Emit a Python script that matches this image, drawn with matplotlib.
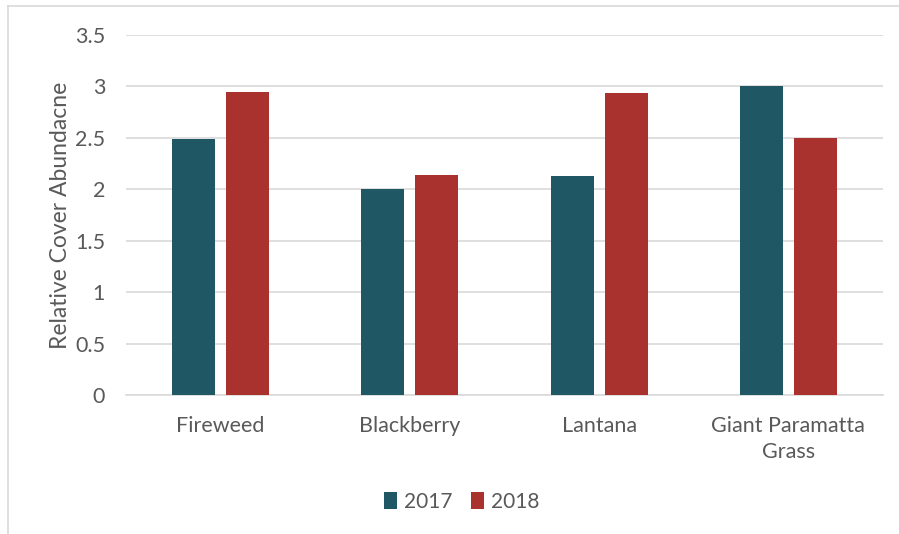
import numpy as np
import matplotlib.pyplot as plt

categories = ["Fireweed", "Blackberry", "Lantana", "Giant Paramatta\nGrass"]
series_names = ["2017", "2018"]
values_2017 = [2.49, 2.0, 2.13, 3.0]
values_2018 = [2.95, 2.14, 2.94, 2.5]
y_ticks = [0, 0.5, 1, 1.5, 2, 2.5, 3, 3.5]
y_tick_labels = ["0", "0.5", "1", "1.5", "2", "2.5", "3", "3.5"]

teal = "#1F5765"
red = "#A9322F"
text_col = "#595959"
grid_col = "#D9D9D9"

plt.rcParams['font.family'] = ['Lato', 'DejaVu Sans']

fig = plt.figure(figsize=(8.99, 5.34), dpi=100)
ax = fig.add_axes([126 / 899, 1 - 395 / 534, (883 - 126) / 899, (395 - 35) / 534])

x = np.arange(len(categories))
w = 0.227
gap = 0.058
ax.bar(x - (w + gap) / 2, values_2017, w, color=teal, label=series_names[0], zorder=3)
ax.bar(x + (w + gap) / 2, values_2018, w, color=red, label=series_names[1], zorder=3)

ax.set_xlim(-0.5, len(categories) - 0.5)
ax.set_ylim(0, 3.5)
ax.set_yticks(y_ticks)
ax.set_yticklabels(y_tick_labels)
ax.set_xticks(x)
ax.set_xticklabels(categories, linespacing=1.4)
ax.tick_params(axis='both', length=0, labelsize=15.5, colors=text_col)
ax.tick_params(axis='y', pad=15)
ax.tick_params(axis='x', pad=15)
ax.grid(axis='y', color=grid_col, linewidth=1.2, zorder=0)
for s in ["top", "right", "left"]:
    ax.spines[s].set_visible(False)
ax.spines["bottom"].set_color(grid_col)
ax.spines["bottom"].set_linewidth(1.2)

ax.set_ylabel("Relative Cover Abundacne", fontsize=16.5, color=text_col, labelpad=3)

leg = fig.legend(loc='center', bbox_to_anchor=(462 / 899, 1 - 502 / 534), ncol=2,
                 frameon=False, fontsize=15, handlelength=0.6, handleheight=0.85,
                 handletextpad=0.35, columnspacing=0.9)
for t in leg.get_texts():
    t.set_color(text_col)

# chart border (partially cropped in reference)
fig.add_artist(plt.Line2D([8 / 899, 8 / 899], [0, 1 - 6 / 534], color=grid_col, linewidth=1.2))
fig.add_artist(plt.Line2D([8 / 899, 1], [1 - 6 / 534, 1 - 6 / 534], color=grid_col, linewidth=1.2))

fig.savefig("out.png", dpi=100)
